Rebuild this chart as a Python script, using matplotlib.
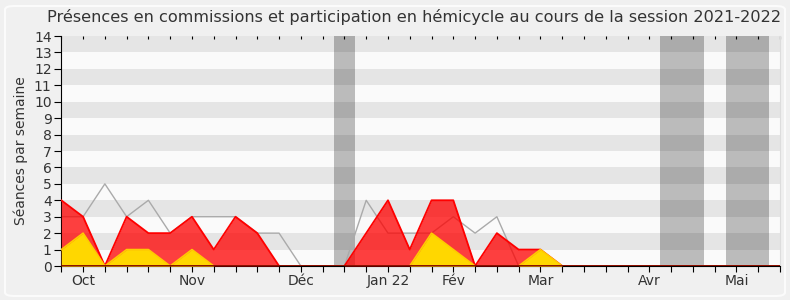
import matplotlib
matplotlib.use("Agg")
import matplotlib.pyplot as plt
from matplotlib.patches import FancyBboxPatch

title = "Présences en commissions et participation en hémicycle au cours de la session 2021-2022"
ylabel = "Séances par semaine"

weeks = list(range(34))
commission_presence = [4, 3, 0, 3, 2, 2, 3, 1, 3, 2, 0, 0, 0, 0, 2, 4, 1, 4, 4, 0, 2, 1, 1, 0,
                       0, 0, 0, 0, 0, 0, 0, 0, 0, 0]
commission_interventions = [1, 2, 0, 1, 1, 0, 1, 0, 0, 0, 0, 0, 0, 0, 0, 0, 0, 2, 1, 0, 0, 0, 1, 0,
                            0, 0, 0, 0, 0, 0, 0, 0, 0, 0]
hemicycle = [3, 3, 5, 3, 4, 2, 3, 3, 3, 2, 2, 0, 0, 0, 4, 2, 2, 2, 3, 2, 3, 0, 0, 0,
             0, 0, 0, 0, 0, 0, 0, 0, 0, 0]
vacation_weeks = [13, 28, 29, 31, 32]
month_labels = ["Oct", "Nov", "Déc", "Jan 22", "Fév", "Mar", "Avr", "Mai"]
month_weeks = [1, 6, 11, 15, 18, 22, 27, 31]

W, H = 790, 300
fig = plt.figure(figsize=(W / 100, H / 100), dpi=100, facecolor="#f0f0f0")
fig.patches.append(FancyBboxPatch((5 / W, 4 / H), 780 / W, 290 / H,
                                  boxstyle="round,pad=0,rounding_size=0.012",
                                  transform=fig.transFigure, facecolor="none",
                                  edgecolor="#fbfbfb", lw=1.5, zorder=0))

ax = fig.add_axes([61.3 / W, 1 - 266 / H, (780 - 61.3) / W, (266 - 36) / H])
ax.set_facecolor("#fafafa")
for i in range(14):
    if i % 2 == 1:
        ax.axhspan(i, i + 1, color="#e5e5e5", lw=0, zorder=0)
for w in vacation_weeks:
    ax.axvspan(w - 0.5, w + 0.5, color="black", alpha=0.25, lw=0, zorder=1)

ax.plot(weeks, hemicycle, color="#aaaaaa", lw=1, zorder=2)
ax.fill_between(weeks, commission_presence, color="#ff0000", alpha=0.75, lw=0, zorder=3)
ax.plot(weeks, commission_presence, color="#ff0000", lw=1.3, zorder=4)
ax.fill_between(weeks, commission_interventions, color="#ffd700", lw=0, zorder=5)
ax.plot(weeks, commission_interventions, color="#ffcc00", lw=1.2, zorder=6)
ax.axhline(0, color="#800000", lw=1.3, zorder=7)

ax.set_xlim(0, 33)
ax.set_ylim(0, 14)
ax.set_yticks(range(15))
ax.set_yticklabels([str(v) for v in range(15)], fontsize=10, color="#333333")
labels = [""] * len(weeks)
for m, w in zip(month_labels, month_weeks):
    labels[w] = m
ax.set_xticks(weeks)
ax.set_xticklabels(labels, fontsize=10, color="#333333")
ax.tick_params(axis="x", direction="out", length=4, pad=2, top=False)
ax.tick_params(axis="y", direction="out", length=5, pad=2)

secx = ax.secondary_xaxis("top")
secx.set_xticks(weeks)
secx.set_xticklabels([])
secx.tick_params(direction="in", length=2, width=0.8)
secx.spines["top"].set_visible(False)

ax.spines["top"].set_visible(False)
ax.spines["right"].set_color("#dddddd")
ax.spines["left"].set_color("black")
ax.spines["bottom"].set_color("black")

ax.set_ylabel(ylabel, fontsize=10, color="#333333")
ax.yaxis.set_label_coords(-0.047, 0.5)
fig.text(414 / W, 1 - 17 / H, title, ha="center", va="center", fontsize=11.6, color="#333333")

fig.savefig("out.png", dpi=100, facecolor=fig.get_facecolor())
